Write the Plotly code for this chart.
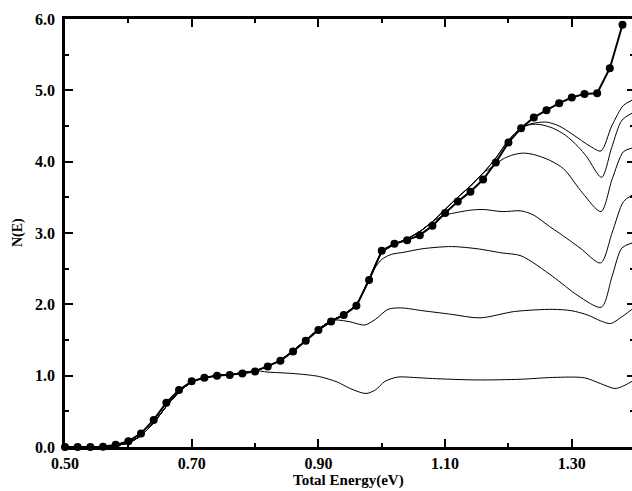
import plotly.graph_objects as go

# Total energy grid (eV) of the marked curve and its N(E) values
dot_e = [0.50, 0.52, 0.54, 0.56, 0.58, 0.60, 0.62, 0.64, 0.66, 0.68, 0.70, 0.72,
         0.74, 0.76, 0.78, 0.80, 0.82, 0.84, 0.86, 0.88, 0.90, 0.92, 0.94, 0.96,
         0.98, 1.00, 1.02, 1.04, 1.06, 1.08, 1.10, 1.12, 1.14, 1.16, 1.18, 1.20,
         1.22, 1.24, 1.26, 1.28, 1.30, 1.32, 1.34, 1.36, 1.38]
dot_n = [0.00, 0.00, 0.00, 0.005, 0.03, 0.08, 0.19, 0.38, 0.62, 0.80, 0.92, 0.97,
         1.00, 1.01, 1.03, 1.06, 1.13, 1.21, 1.34, 1.49, 1.64, 1.76, 1.85, 1.98,
         2.34, 2.75, 2.85, 2.90, 2.97, 3.10, 3.28, 3.44, 3.58, 3.75, 3.99, 4.27,
         4.47, 4.62, 4.72, 4.82, 4.90, 4.95, 4.96, 5.31, 5.92]

# Common path shared by the thin curves before they branch off
trunk_e = [0.50, 0.52, 0.54, 0.56, 0.58, 0.60, 0.62, 0.64, 0.66, 0.68, 0.70, 0.72,
           0.74, 0.76, 0.78, 0.80, 0.82, 0.84, 0.86, 0.88, 0.90, 0.92, 0.94, 0.96,
           0.98, 1.00, 1.02, 1.04, 1.06, 1.08, 1.10, 1.12, 1.14, 1.16, 1.18, 1.20,
           1.22]
trunk_n = [0.00, 0.00, 0.00, 0.00, 0.02, 0.06, 0.16, 0.34, 0.57, 0.77, 0.91, 0.97,
           1.00, 1.02, 1.04, 1.07, 1.13, 1.22, 1.35, 1.50, 1.65, 1.77, 1.86, 2.00,
           2.36, 2.72, 2.84, 2.92, 3.02, 3.16, 3.33, 3.50, 3.66, 3.84, 4.05, 4.30,
           4.47]

# Branch point of each thin curve and its values past that point
branch_at = [0.80, 0.92, 0.98, 1.08, 1.16, 1.22, 1.22]

branch_e = [
    [0.82, 0.86, 0.90, 0.93, 0.95, 0.975, 0.99, 1.005, 1.025, 1.05, 1.08, 1.15,
     1.22, 1.27, 1.32, 1.345, 1.368, 1.38, 1.395],
    [0.93, 0.95, 0.973, 0.99, 1.01, 1.03, 1.065, 1.11, 1.155, 1.21, 1.27, 1.30,
     1.325, 1.345, 1.361, 1.375, 1.395],
    [0.99, 1.00, 1.015, 1.035, 1.065, 1.11, 1.15, 1.19, 1.22, 1.27, 1.31, 1.3466,
     1.3635, 1.379, 1.395],
    [1.10, 1.12, 1.14, 1.16, 1.19, 1.22, 1.24, 1.265, 1.28, 1.313, 1.3455, 1.3635,
     1.3815, 1.395],
    [1.175, 1.19, 1.205, 1.2225, 1.24, 1.265, 1.287, 1.317, 1.346, 1.3635, 1.3815,
     1.395],
    [1.235, 1.25, 1.27, 1.29, 1.31, 1.3235, 1.347, 1.363, 1.379, 1.395],
    [1.235, 1.26, 1.28, 1.30, 1.33, 1.346, 1.363, 1.3815, 1.395],
]
branch_n = [
    [1.05, 1.03, 0.99, 0.91, 0.82, 0.75, 0.80, 0.92, 0.98, 0.975, 0.96, 0.94,
     0.95, 0.975, 0.97, 0.89, 0.82, 0.85, 0.92],
    [1.78, 1.755, 1.71, 1.79, 1.93, 1.95, 1.91, 1.86, 1.81, 1.90, 1.93, 1.91,
     1.85, 1.77, 1.73, 1.80, 1.93],
    [2.52, 2.63, 2.70, 2.73, 2.78, 2.81, 2.78, 2.72, 2.68, 2.39, 2.12, 1.96,
     2.39, 2.79, 2.86],
    [3.25, 3.29, 3.32, 3.33, 3.30, 3.31, 3.25, 3.09, 3.00, 2.79, 2.58, 3.00,
     3.44, 3.53],
    [3.93, 4.03, 4.09, 4.12, 4.10, 4.02, 3.90, 3.56, 3.30, 3.75, 4.14, 4.19],
    [4.52, 4.52, 4.47, 4.37, 4.21, 4.07, 3.78, 4.20, 4.58, 4.68],
    [4.53, 4.555, 4.50, 4.39, 4.21, 4.15, 4.50, 4.79, 4.86],
]

x_tick_vals = [0.50, 0.70, 0.90, 1.10, 1.30]
y_tick_vals = [0.0, 1.0, 2.0, 3.0, 4.0, 5.0, 6.0]

SERIF = "Liberation Serif, Times New Roman, serif"

fig = go.Figure()

for k, (dep, be, bn) in enumerate(zip(branch_at, branch_e, branch_n)):
    xs = [e for e in trunk_e if e <= dep + 1e-9] + be
    ys = [n for e, n in zip(trunk_e, trunk_n) if e <= dep + 1e-9] + bn
    fig.add_trace(go.Scatter(
        x=xs, y=ys, mode="lines",
        line=dict(color="black", width=1, shape="spline", smoothing=0.8),
        yaxis="y2" if k == 0 else "y",
        hoverinfo="skip", showlegend=False,
    ))

fig.add_trace(go.Scatter(
    x=dot_e, y=dot_n, mode="lines+markers",
    line=dict(color="black", width=2),
    marker=dict(color="black", size=8),
    cliponaxis=False, showlegend=False,
))

axis_font = dict(family=SERIF, size=16, color="black", weight="bold")

fig.update_layout(
    width=632, height=491,
    margin=dict(l=65, r=0, t=19, b=44, pad=0),
    paper_bgcolor="white", plot_bgcolor="white",
    showlegend=False,
    xaxis=dict(
        range=[0.5, 1.395], tickvals=x_tick_vals, tickformat=".2f",
        showline=True, linecolor="black", linewidth=2.5, mirror="ticks",
        ticks="inside", ticklen=8, tickwidth=2, tickcolor="black",
        minor=dict(dtick=0.1, tick0=0.5, ticks="inside", ticklen=4,
                   tickwidth=2, tickcolor="black"),
        showgrid=False, zeroline=False, tickfont=axis_font,
    ),
    yaxis=dict(
        range=[0, 6], tickvals=y_tick_vals, tickformat=".1f",
        showline=True, linecolor="black", linewidth=2.5, mirror=False,
        ticks="inside", ticklen=8, tickwidth=2, tickcolor="black",
        minor=dict(dtick=0.5, tick0=0, ticks="inside", ticklen=4,
                   tickwidth=2, tickcolor="black"),
        showgrid=False, zeroline=False, tickfont=axis_font,
        ticklabelstandoff=4,
    ),
    yaxis2=dict(
        matches="y", overlaying="y", side="right", anchor="x",
        tickvals=y_tick_vals, showticklabels=False,
        showline=False, ticks="inside", ticklen=5, tickwidth=2,
        tickcolor="black",
        minor=dict(dtick=0.5, tick0=0, ticks="inside", ticklen=2,
                   tickwidth=2, tickcolor="black"),
        showgrid=False, zeroline=False,
    ),
    annotations=[
        dict(text="Total Energy(eV)", xref="paper", yref="paper",
             x=0.5, y=0, xanchor="center", yanchor="middle", yshift=-33,
             showarrow=False,
             font=dict(family=SERIF, size=15, color="black", weight="bold")),
        dict(text="N(E)", xref="paper", yref="paper",
             x=0, y=0.5, xanchor="center", yanchor="middle", xshift=-47,
             textangle=-90, showarrow=False,
             font=dict(family=SERIF, size=14, color="black", weight="bold")),
    ],
)

fig.write_html("out.html")
